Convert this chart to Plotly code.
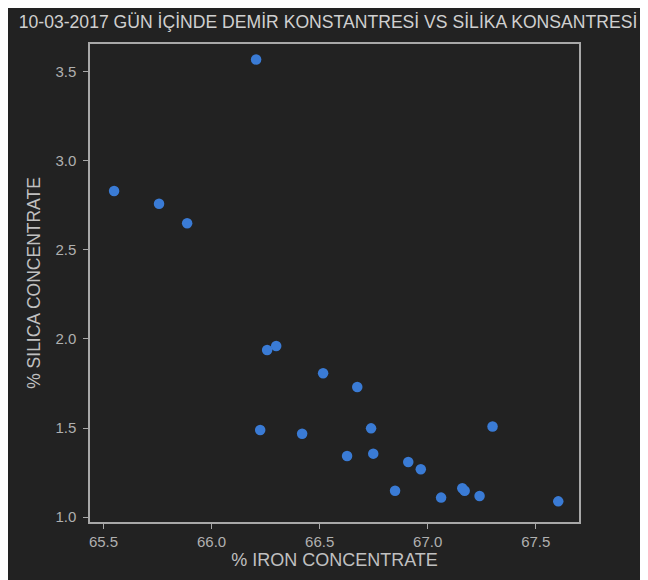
import plotly.graph_objects as go

iron = [66.206, 65.549, 65.757, 65.887, 66.257, 66.299, 66.516, 66.674,
        66.225, 66.419, 66.738, 66.627, 66.748, 66.910, 66.968, 67.300,
        66.849, 67.062, 67.160, 67.171, 67.240, 67.604]
silica = [3.570, 2.831, 2.760, 2.650, 1.938, 1.961, 1.808, 1.730,
          1.489, 1.468, 1.498, 1.343, 1.356, 1.309, 1.268, 1.508,
          1.148, 1.109, 1.162, 1.148, 1.118, 1.088]

title = "10-03-2017 GÜN İÇİNDE DEMİR KONSTANTRESİ VS SİLİKA KONSANTRESİ"
x_title = "% IRON CONCENTRATE"
y_title = "% SILICA CONCENTRATE"
x_ticks = [65.5, 66.0, 66.5, 67.0, 67.5]
y_ticks = [1.0, 1.5, 2.0, 2.5, 3.0, 3.5]

bg = "#222222"
fg = "#b0b0b0"
spine = "#a8a8a8"
font = "Liberation Sans, Arial, sans-serif"

# page has an 8px body margin, so the figure is drawn 8px smaller
W, H = 640, 572
L, R, T, B = 82, 69, 36, 58

fig = go.Figure(go.Scatter(
    x=iron, y=silica, mode="markers",
    marker=dict(color="#3a7bd5", size=10.5, line=dict(width=0)),
    hoverinfo="x+y",
))

fig.update_layout(
    width=W, height=H,
    paper_bgcolor=bg, plot_bgcolor=bg,
    margin=dict(l=L, r=R, t=T, b=B),
    showlegend=False,
    font=dict(family=font, color=fg, size=15),
    title=dict(text=title, x=0.5, xanchor="center",
               y=1 - 14 / H, yanchor="middle", yref="container",
               font=dict(family=font, size=17.6, color="#d0d0d0")),
)

fig.update_xaxes(
    range=[65.4375, 67.70], tickvals=x_ticks,
    ticktext=[f"{v:.1f}" for v in x_ticks],
    showgrid=False, zeroline=False, automargin=False,
    showline=True, linecolor=spine, linewidth=1.5, mirror=True,
    ticks="outside", ticklen=5, tickwidth=1.2, tickcolor=spine,
    tickfont=dict(size=15, color=fg),
    title=dict(text=x_title, font=dict(size=18, color="#c0c0c0"), standoff=4),
)
fig.update_yaxes(
    range=[0.972, 3.657], tickvals=y_ticks,
    ticktext=[f"{v:.1f}" for v in y_ticks],
    showgrid=False, zeroline=False, automargin=False,
    showline=True, linecolor=spine, linewidth=1.5, mirror=True,
    ticks="outside", ticklen=5, tickwidth=1.2, tickcolor=spine,
    tickfont=dict(size=15, color=fg), ticklabelstandoff=4,
    title=dict(text=y_title, font=dict(size=17.5, color="#c0c0c0"), standoff=10),
)

fig.write_html("out.html")
